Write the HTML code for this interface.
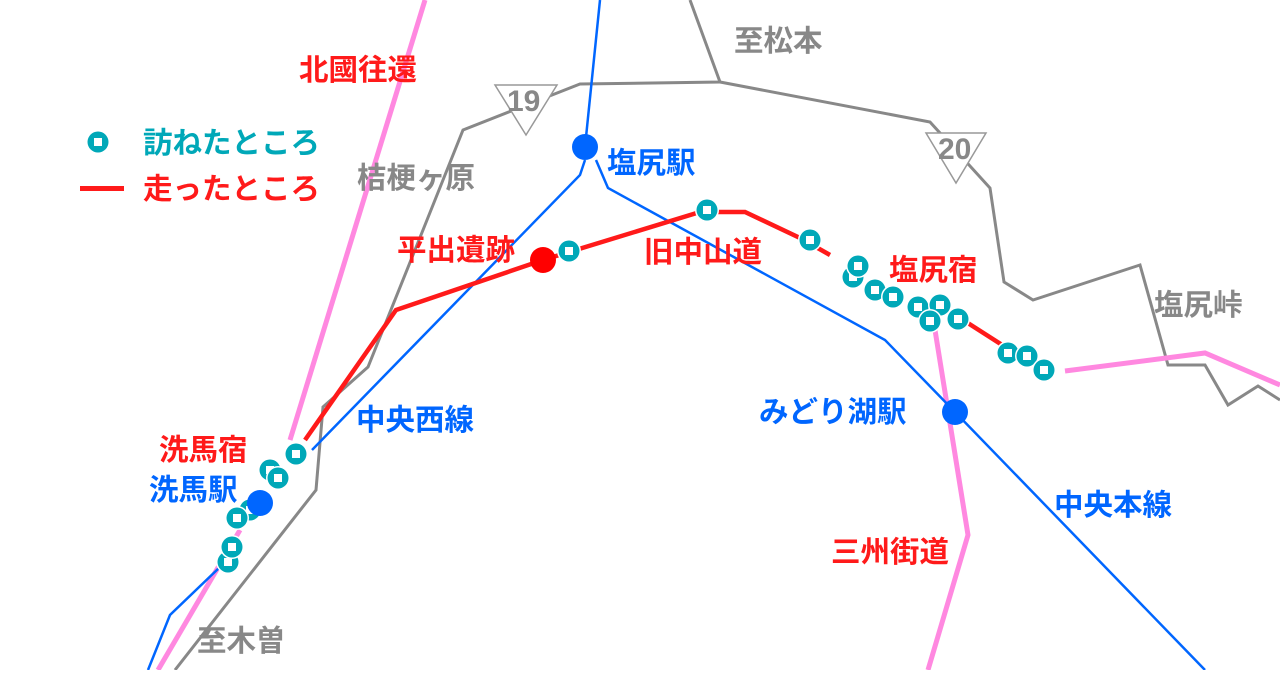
<!DOCTYPE html>
<html><head><meta charset="utf-8"><style>
html,body{margin:0;padding:0;background:#fff;}
svg text{font-family:"Liberation Sans","Noto Sans CJK JP",sans-serif;font-weight:bold;font-size:29.5px;}
</style></head><body>
<svg width="1280" height="670" viewBox="0 0 1280 670" xmlns="http://www.w3.org/2000/svg">
<defs>
<g id="m"><circle r="12" fill="#fff"/><circle r="10.5" fill="#00a8b8"/><rect x="-4" y="-4" width="8" height="8" fill="#fff"/></g>
</defs>
<g fill="none" stroke="#888" stroke-width="3">
<polyline points="690,0 720,82 580,84 463,130 423,230 368,367 323,407 316,490 175,670"/>
<polyline points="720,82 930,122 990,188 1004,282 1033,300 1140,265 1168,365 1205,365 1228,405 1258,386 1280,400"/>
</g>
<g fill="none" stroke="#ff88e0" stroke-width="5">
<polyline points="425,0 290,440"/>
<polyline points="240,530 158,670"/>
<polyline points="1065,371 1205,353 1280,385"/>
<polyline points="935,330 968,535 928,670"/>
</g>
<g fill="none" stroke="#0066ff" stroke-width="2.5">
<polyline points="600,0 585,147"/>
<polyline points="585,160 580,175 312,450"/>
<polyline points="220,567 170,615 148,670"/>
<polyline points="596,160 608,188 885,340 955,412 1205,670"/>
</g>
<polyline points="305,440 396,310 543,260 700,212 745,212 800,238 830,255" fill="none" stroke="#ff1a1a" stroke-width="4.5"/>
<polyline points="960,318 1010,350" fill="none" stroke="#ff1a1a" stroke-width="4.5"/>
<circle cx="543" cy="260" r="13" fill="#ff0000"/>
<use href="#m" x="569" y="251"/><use href="#m" x="707" y="210"/><use href="#m" x="810" y="240"/>
<use href="#m" x="853" y="277"/><use href="#m" x="858" y="266"/><use href="#m" x="875" y="290"/>
<use href="#m" x="893" y="297"/><use href="#m" x="918" y="307"/><use href="#m" x="940" y="305"/>
<use href="#m" x="930" y="321"/><use href="#m" x="958" y="319"/>
<use href="#m" x="1008" y="353"/><use href="#m" x="1027" y="356"/><use href="#m" x="1044" y="370"/>
<use href="#m" x="270" y="470"/><use href="#m" x="278" y="478"/><use href="#m" x="296" y="454"/>
<use href="#m" x="250" y="510"/><use href="#m" x="237" y="518"/>
<use href="#m" x="228" y="562"/><use href="#m" x="232" y="547"/>
<circle cx="585" cy="147" r="13" fill="#0066ff"/>
<circle cx="955" cy="412" r="13" fill="#0066ff"/>
<circle cx="260" cy="503" r="13" fill="#0066ff"/>
<polygon points="495,85 557,85 526,135" fill="#fff" stroke="#999" stroke-width="1.5"/>
<text x="507" y="111" fill="#888" style="font-size:30px">19</text>
<polygon points="926,133 986,133 956,183" fill="#fff" stroke="#999" stroke-width="1.5"/>
<text x="938" y="159" fill="#888" style="font-size:30px">20</text>
<use href="#m" x="98" y="142"/>
<rect x="80" y="186" width="44" height="5" fill="#ff1a1a"/>
<text x="143" y="153" fill="#00a8b8">訪ねたところ</text>
<text x="143" y="199" fill="#ff1a1a">走ったところ</text>
<text x="734" y="51" fill="#888">至松本</text>
<text x="299" y="80" fill="#ff1a1a">北國往還</text>
<text x="357" y="188" fill="#888">桔梗ヶ原</text>
<text x="607" y="173" fill="#0066ff">塩尻駅</text>
<text x="397" y="260" fill="#ff1a1a">平出遺跡</text>
<text x="644" y="262" fill="#ff1a1a">旧中山道</text>
<text x="889" y="280" fill="#ff1a1a">塩尻宿</text>
<text x="1154" y="315" fill="#888">塩尻峠</text>
<text x="356" y="430" fill="#0066ff">中央西線</text>
<text x="759" y="422" fill="#0066ff">みどり湖駅</text>
<text x="159" y="460" fill="#ff1a1a">洗馬宿</text>
<text x="149" y="500" fill="#0066ff">洗馬駅</text>
<text x="1054" y="515" fill="#0066ff">中央本線</text>
<text x="831" y="562" fill="#ff1a1a">三州街道</text>
<text x="197" y="651" fill="#888">至木曽</text>
</svg>
</body></html>
